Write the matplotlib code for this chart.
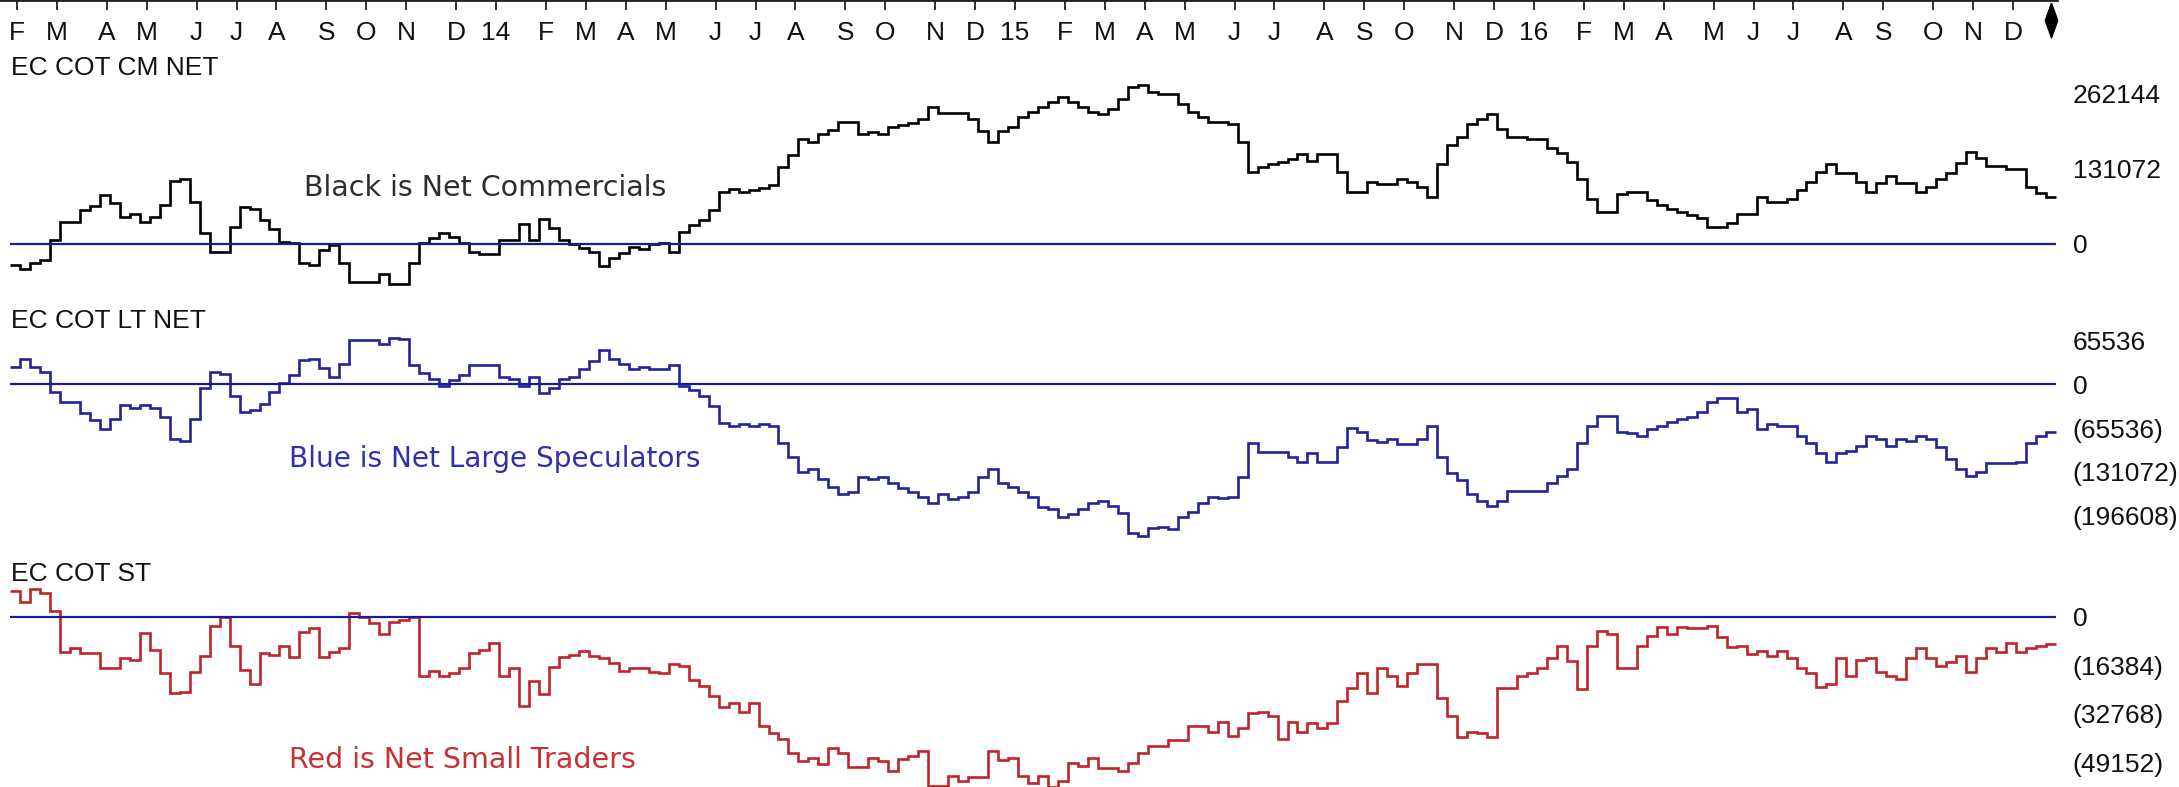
import numpy as np
import pandas as pd
import matplotlib
matplotlib.use("Agg")
import matplotlib.pyplot as plt

# weekly COT reports (Fridays)
dates = pd.date_range("2013-02-01", periods=205, freq="W-FRI")

# net commercials (contracts)
cm_net = [
    -36700, -44200, -32700, -28000, 7000, 39000, 39000, 59400, 66400, 85600,
    72200, 47700, 52400, 39000, 47700, 68200, 110600, 113100, 73900, 19700,
    -13500, -13500, 30200, 65200, 60600, 41900, 25700, 4000, 1200, -32700,
    -36700, -10500, -1700, -33700, -65900, -65900, -65900, -52400, -69900, -69900,
    -32700, 2300, 10000, 19700, 12800, 2300, -13500, -17500, -17500, 7000,
    7000, 35000, 7000, 43200, 27400, 7000, 0, -7500, -13500, -38400,
    -25000, -15200, -4700, -9300, 0, 1200, -13500, 21500, 33200, 41900,
    59400, 91400, 95600, 91400, 94400, 97300, 103100, 135100, 155500, 183000,
    178800, 192200, 199200, 213700, 213700, 191700, 196300, 192200, 203900, 208000,
    212000, 217900, 238900, 228400, 228400, 228400, 217900, 197500, 178800, 198000,
    203900, 222500, 231200, 239900, 248700, 256400, 248700, 239900, 231200, 227200,
    235400, 252900, 274900, 277900, 266200, 262100, 262100, 244700, 231200, 222500,
    213700, 213700, 209700, 178800, 126400, 135100, 139300, 143800, 148000, 157300,
    145600, 157300, 157300, 126400, 91400, 91400, 108900, 104900, 104900, 113100,
    108900, 100100, 82700, 139300, 173000, 187500, 209700, 217900, 226700, 200400,
    187500, 187500, 183000, 183000, 167200, 158500, 143800, 113100, 78100, 56400,
    56400, 87400, 91400, 91400, 76900, 68200, 60600, 55900, 50700, 44900,
    29200, 29200, 37200, 51900, 51900, 81600, 73900, 73900, 78100, 94400,
    108900, 126400, 139800, 123600, 123600, 108900, 91400, 106100, 118800, 106100,
    106100, 91400, 100100, 113100, 124600, 141000, 160800, 149800, 136300, 136300,
    130500, 130500, 99100, 89700, 82700,
]

# net large speculators
lt_net = [
    26500, 37400, 26500, 19000, -11000, -26000, -26000, -43400, -53400, -67400,
    -52400, -31000, -35000, -31000, -35900, -48400, -82400, -84900, -52400, -6000,
    19000, 15000, -17500, -40900, -38400, -30000, -11000, 1500, 14000, 36400,
    37400, 24000, 11500, 30000, 66400, 66400, 66400, 60400, 69900, 67400,
    29000, 16500, 7500, -2500, 6500, 14000, 29000, 29000, 29000, 11500,
    7500, -2500, 10500, -13500, -6000, 7500, 11500, 22500, 35500, 51400,
    37400, 30000, 23000, 25500, 23000, 23000, 29000, -2500, -8500, -17500,
    -32500, -58400, -62400, -59400, -62400, -59400, -62400, -88400, -108300, -130800,
    -127300, -142300, -153300, -164300, -160800, -138300, -142300, -138300, -148300, -155800,
    -160800, -168300, -178300, -164300, -172300, -168300, -160800, -138300, -126800, -148300,
    -153300, -160800, -168300, -183300, -187200, -198200, -194200, -187200, -178300, -174800,
    -182200, -193200, -223200, -227200, -215700, -213200, -217200, -198200, -190700, -178300,
    -168300, -170800, -168300, -138300, -88400, -100900, -100900, -100900, -108300, -115800,
    -103400, -115800, -115800, -93400, -65900, -70900, -83400, -85900, -82400, -89400,
    -89400, -82400, -62400, -108300, -133300, -143300, -164300, -174300, -182200, -174300,
    -159300, -159300, -159300, -159300, -148300, -137300, -127300, -88400, -62400, -47400,
    -47400, -70900, -73400, -77400, -67400, -62400, -55900, -52400, -48400, -40900,
    -26000, -21000, -21000, -40900, -37400, -67400, -59400, -62400, -62400, -77400,
    -88400, -102400, -115800, -103400, -99400, -92400, -77400, -82400, -92400, -82400,
    -84400, -77400, -82400, -93400, -112300, -127300, -137300, -130800, -118300, -118300,
    -118300, -115800, -88400, -77400, -70900,
]

# net small traders
st_net = [
    8900, 5200, 9300, 8200, 2100, -11700, -10600, -12300, -12300, -17300,
    -17300, -14000, -14500, -5500, -11100, -19000, -25800, -25200, -18500, -13200,
    -3000, -100, -9800, -17900, -22600, -12300, -12800, -9800, -13600, -5000,
    -3800, -13400, -11700, -10600, 1200, -100, -2100, -5900, -1600, -1000,
    -100, -19900, -18200, -19900, -19000, -17100, -12300, -11100, -8900, -19900,
    -17300, -30100, -21600, -26000, -17000, -13600, -12800, -11500, -13200, -14000,
    -15700, -18100, -17300, -17300, -18500, -19000, -15900, -16600, -21300, -23200,
    -26700, -30300, -29200, -32000, -29200, -36800, -39300, -41200, -46100, -48500,
    -47700, -49700, -44400, -46100, -50600, -50600, -47700, -48500, -51900, -48100,
    -47000, -45200, -57100, -57100, -53700, -55300, -53900, -53900, -45200, -48300,
    -47700, -53700, -56200, -53700, -57300, -55300, -49400, -50300, -47700, -51100,
    -51100, -51900, -49200, -46100, -43600, -43600, -41500, -41500, -36800, -36800,
    -38800, -35400, -40200, -37600, -32500, -32000, -33400, -41300, -35400, -38800,
    -35900, -37600, -35900, -28300, -24100, -19000, -25800, -17300, -19900, -23300,
    -19000, -15900, -15900, -27500, -33400, -40400, -38700, -39300, -40400, -24100,
    -24100, -19900, -19000, -17300, -14000, -9800, -14800, -24400, -9800, -4600,
    -5700, -17300, -17300, -9800, -6400, -3300, -5700, -3300, -3800, -3800,
    -3000, -6600, -10200, -9800, -12500, -11400, -13200, -11400, -14000, -17300,
    -18800, -23500, -22600, -14000, -19900, -14500, -14000, -18500, -19900, -21100,
    -14000, -10600, -14000, -16600, -15100, -13200, -18500, -14000, -10600, -11700,
    -8900, -11700, -10600, -9800, -9100,
]

cm_ticks = [262144, 131072, 0]
cm_ticklabels = ["262144", "131072", "0"]
lt_ticks = [65536, 0, -65536, -131072, -196608]
lt_ticklabels = ["65536", "0", "(65536)", "(131072)", "(196608)"]
st_ticks = [0, -16384, -32768, -49152]
st_ticklabels = ["0", "(16384)", "(32768)", "(49152)"]

month_letters = "JFMAMJJASOND"

W, H = 2179, 787
fig = plt.figure(figsize=(W / 100, H / 100), dpi=100)
fig.patch.set_facecolor("white")

lab_font = "Liberation Sans"
note_font = "DejaVu Sans"
zero_col = "#1c1c8c"
n = len(dates)
edges = np.arange(n + 1)


def px_axes(x0, y0, x1, y1):
    return fig.add_axes([x0 / W, 1 - y1 / H, (x1 - x0) / W, (y1 - y0) / H])


def panel(y0, y1, zero_px, per_px, values, color, ticks, ticklabels):
    ax = px_axes(10, y0, 2056, y1)
    ax.set_xlim(0, n)
    ax.set_ylim((zero_px - y1) * per_px, (zero_px - y0) * per_px)
    ax.patch.set_alpha(0)
    for s in ax.spines.values():
        s.set_visible(False)
    ax.stairs(values, edges, baseline=None, color=color, lw=1.9, zorder=2,
              clip_on=False)
    ax.axhline(0, color=zero_col, lw=1.6, zorder=3)
    ax.set_xticks([])
    ax.yaxis.tick_right()
    ax.set_yticks(ticks)
    ax.set_yticklabels(ticklabels, fontsize=19, family=lab_font, color="#111111")
    ax.tick_params(axis="y", length=0, pad=12)
    return ax


ax1 = panel(78, 292, 244, 262144 / 150, cm_net, "black", cm_ticks, cm_ticklabels)
ax2 = panel(330, 540, 384.3, 65536 / 43.75, lt_net, "#23239a", lt_ticks, lt_ticklabels)
ax3 = panel(575, 787, 617, 16384 / 48.5, st_net, "#c0242a", st_ticks, st_ticklabels)

# top month axis
ax_top = px_axes(0, 0, 2057, 45)
ax_top.set_xlim(-10 / 9.98, 2047 / 9.98)
ax_top.set_ylim(45, 0)
ax_top.patch.set_alpha(0)
for k, s in ax_top.spines.items():
    s.set_visible(k == "top")
ax_top.spines["top"].set_linewidth(2)
ax_top.spines["top"].set_color("#222222")
ax_top.set_yticks([])

# a month tick sits on the first report of that month
tick_idx = [i for i in range(n) if i == 0 or dates[i].month != dates[i - 1].month]
tick_lab = [month_letters[dates[i].month - 1] if dates[i].month != 1
            else f"{dates[i].year % 100:02d}" for i in tick_idx]
tick_pos = [i + 0.7 for i in tick_idx]
ax_top.set_xticks(tick_pos)
ax_top.tick_params(axis="x", top=True, bottom=False, labelbottom=False,
                   direction="in", length=7, width=1.3, color="#222222")
for x, lab in zip(tick_pos, tick_lab):
    ax_top.text(x, 40, lab, ha="center", va="baseline", fontsize=19,
                family=lab_font, color="#111111")

diamond = [(0, 1), (0.36, 0), (0, -1), (-0.36, 0), (0, 1)]
ax_top.plot(n - 0.5, 20, marker=diamond, ms=25, color="black", clip_on=False)

# panel titles
for txt, base in [("EC COT CM NET", 75), ("EC COT LT NET", 328), ("EC COT ST", 581)]:
    fig.text(11 / W, 1 - base / H, txt, ha="left", va="baseline", fontsize=19,
             family=lab_font, color="#111111")

# notes
fig.text(304 / W, 1 - 196 / H, "Black is Net Commercials", fontsize=20.5,
         family=note_font, color="#2e2e2e", va="baseline")
fig.text(289 / W, 1 - 467 / H, "Blue is Net Large Speculators", fontsize=20.2,
         family=note_font, color="#3030a8", va="baseline")
fig.text(289 / W, 1 - 768 / H, "Red is Net Small Traders", fontsize=20.5,
         family=note_font, color="#c83036", va="baseline")

fig.savefig("out.png", dpi=100)
